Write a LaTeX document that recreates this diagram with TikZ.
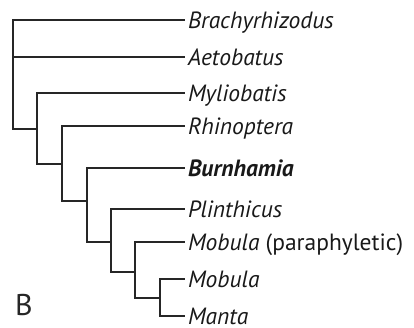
\documentclass[tikz,border=0pt]{standalone}
\usepackage{fontspec}
\setmainfont{PT Sans}
\begin{document}
\begin{tikzpicture}[x=1pt,y=-1pt,
  branch/.style={line width=1.8pt,color=black!85,line join=miter,line cap=rect},
  leaf/.style={anchor=west,inner xsep=4pt,inner ysep=0pt,outer sep=0pt,text height=16.4pt,text depth=0pt,font=\fontsize{23.5}{23.5}\selectfont\itshape,text=black!90},
  panel/.style={anchor=base west,inner sep=0pt,font=\fontsize{30}{30}\selectfont,text=black!85}]
\useasboundingbox (0,0) rectangle (414,328);
% leaves
\node[leaf] (l1) at (184,20) {Brachyrhizodus};
\node[leaf] (l2) at (184,57) {Aetobatus};
\node[leaf] (l3) at (184,93) {Myliobatis};
\node[leaf] (l4) at (184,126) {Rhinoptera};
\node[leaf] (l5) at (184,168) {\bfseries Burnhamia};
\node[leaf] (l6) at (184,209) {Plinthicus};
\node[leaf] (l7) at (184,242) {Mobula \upshape(paraphyletic)};
\node[leaf] (l8) at (184,279) {Mobula};
\node[leaf] (l9) at (184,316) {Manta};
% internal nodes
\coordinate (r) at (13,129);
\coordinate (n2) at (37,129);
\coordinate (n3) at (62,164);
\coordinate (n4) at (87,201);
\coordinate (n5) at (111,242);
\coordinate (n6) at (135,272);
\coordinate (n7) at (160,298);
% branches
\draw[branch] (r) |- (l1.west);
\draw[branch] (r) |- (l2.west);
\draw[branch] (r) -- (n2);
\draw[branch] (n2) |- (l3.west);
\draw[branch] (n2) |- (n3);
\draw[branch] (n3) |- (l4.west);
\draw[branch] (n3) |- (n4);
\draw[branch] (n4) |- (l5.west);
\draw[branch] (n4) |- (n5);
\draw[branch] (n5) |- (l6.west);
\draw[branch] (n5) |- (n6);
\draw[branch] (n6) |- (l7.west);
\draw[branch] (n6) |- (n7);
\draw[branch] (n7) |- (l8.west);
\draw[branch] (n7) |- (l9.west);
% panel label
\node[panel] (lab) at (15,315) {B};
\end{tikzpicture}
\end{document}
